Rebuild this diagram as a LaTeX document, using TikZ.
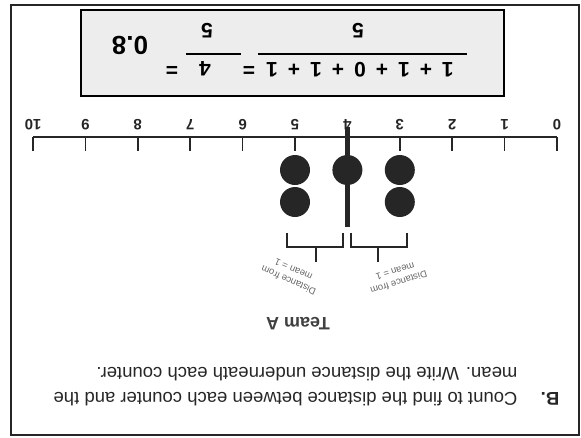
\documentclass[tikz,border=0pt]{standalone}
\usepackage{fontspec}
\setmainfont{Liberation Sans}
\usetikzlibrary{positioning}
\newcommand{\sumgap}{\hspace{10pt}}
\begin{document}
\begin{tikzpicture}[x=1pt, y=-1pt,
    flip/.style={rotate=180, inner sep=0pt},
    tickmark/.style={line width=1.6pt, black!85},
    counter/.style={circle, fill=black!85, minimum size=30pt, inner sep=0pt},
    numlbl/.style={flip, font=\fontsize{15}{15}\selectfont\bfseries, text=black!85},
    fracnum/.style={flip, font=\fontsize{21}{21}\selectfont\bfseries},
    fracbar/.style={line width=1.6pt},
    bracket/.style={line width=2.4pt, black!85},
    distlbl/.style={font=\fontsize{9.5}{12}\selectfont, text=black!60, align=center, inner sep=1pt},
    qtext/.style={flip, font=\fontsize{18.5}{25}\selectfont, text=black!85}
]
\useasboundingbox (0,0) rectangle (581,437);
% frame and formula box
\draw[line width=1.5pt, black!85] (11,5) rectangle (579,435);
\draw[line width=1.8pt, fill=black!7] (81,10) rectangle (504,96);

% worked mean
\node[fracnum] (num1) at (360,70) {1\sumgap+\sumgap1\sumgap+\sumgap0\sumgap+\sumgap1\sumgap+\sumgap1};
\node[fracnum] (den1) at (358,31) {5};
\draw[fracbar] (258,54) -- (467,54);
\node[fracnum] (eq1) at (249,69) {=};
\node[fracnum] (num2) at (205,69) {4};
\node[fracnum] (den2) at (207,31) {5};
\draw[fracbar] (186,54) -- (241,54);
\node[fracnum] (eq2) at (172,69) {=};
\node[flip, font=\fontsize{26}{26}\selectfont\bfseries] (result) at (130,45) {0.8};

% number line
\draw[line width=2pt, black!85] (33,137) -- (557,137);
\foreach \v in {0,...,10} {
  \draw[tickmark] (557-52.4*\v,137) -- (557-52.4*\v,151);
  \node[numlbl] (lbl\v) at (557-52.4*\v,125) {\v};
}

% mean marker and counters
\draw[line width=5pt, black!85] (347.4,127) -- (347.4,227);
\node[counter] (c5a) at (295,170) {};
\node[counter] (c5b) at (295,202) {};
\node[counter] (c4a) at (347.4,170) {};
\node[counter] (c3a) at (399.8,170) {};
\node[counter] (c3b) at (399.8,202) {};

% brackets under the counters
\draw[bracket] (287,233) -- (287,247) -- (343,247) -- (343,233);
\draw[bracket] (316,247) -- (316,262);
\draw[bracket] (351,233) -- (351,247) -- (407,247) -- (407,233);
\draw[bracket] (378,247) -- (378,262);
\node[distlbl, rotate=156] (distL) at (291,275) {Distance from\\mean = 1};
\node[distlbl, rotate=-163] (distR) at (397,277) {Distance from\\mean = 1};

\node[flip, font=\fontsize{18}{18}\selectfont\bfseries, text=black!75] (team) at (298,324) {Team A};

% question
\node[qtext, align=left] (qbody) at (285.5,387) {Count to find the distance between each counter and the\\mean. Write the distance underneath each counter.};
\node[flip, font=\fontsize{18.5}{18.5}\selectfont\bfseries, text=black!85] (qlabel) at (550,399) {B.};
\end{tikzpicture}
\end{document}
